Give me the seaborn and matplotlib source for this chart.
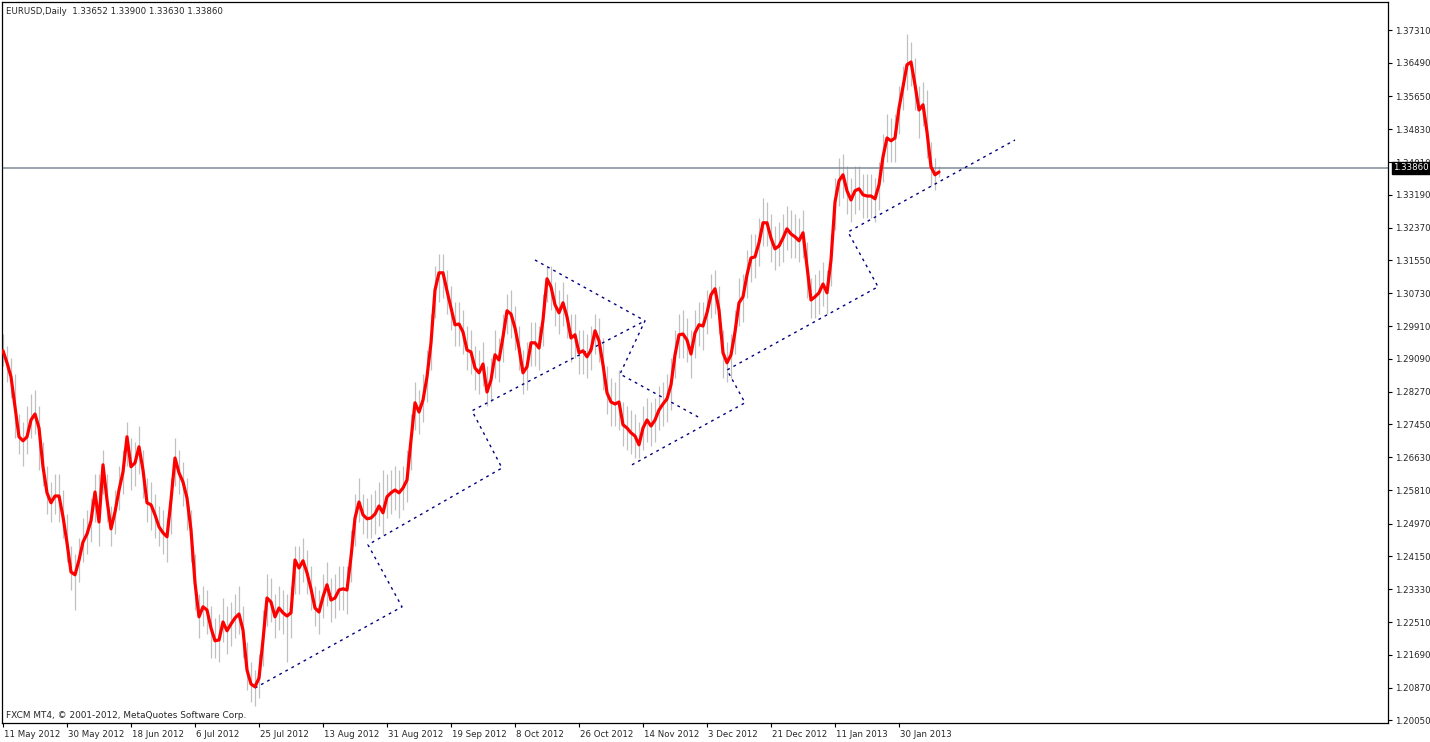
import numpy as np
import pandas as pd
import matplotlib
matplotlib.use('Agg')
import matplotlib.pyplot as plt
import matplotlib.transforms as mtransforms
import seaborn as sns

# Smoothed close (red line), one value per daily bar
red_line = [
    1.2929, 1.2899, 1.2864, 1.2789, 1.2714, 1.2704, 1.2714, 1.2756, 1.2771, 1.2736,
    1.2639, 1.2574, 1.2549, 1.2566, 1.2566, 1.2514, 1.2449, 1.2376, 1.2369, 1.2406,
    1.2451, 1.2471, 1.2504, 1.2576, 1.2501, 1.2644, 1.2556, 1.2484, 1.2526, 1.2581,
    1.2626, 1.2714, 1.2639, 1.2649, 1.2689, 1.2631, 1.2549, 1.2544, 1.2519, 1.2489,
    1.2474, 1.2464, 1.2556, 1.2661, 1.2624, 1.2601, 1.2561, 1.2481, 1.2349, 1.2264,
    1.2289, 1.2281, 1.2236, 1.2204, 1.2206, 1.2251, 1.2229, 1.2246, 1.2261, 1.2271,
    1.2231, 1.2131, 1.2096, 1.2089, 1.2111, 1.2206, 1.2311, 1.2301, 1.2264, 1.2286,
    1.2274, 1.2266, 1.2274, 1.2406, 1.2386, 1.2404, 1.2374, 1.2334, 1.2286, 1.2276,
    1.2314, 1.2344, 1.2306, 1.2311, 1.2331, 1.2334, 1.2331, 1.2414, 1.2511, 1.2551,
    1.2519, 1.2509, 1.2511, 1.2521, 1.2541, 1.2524, 1.2564, 1.2574, 1.2581, 1.2574,
    1.2586, 1.2606, 1.2706, 1.2799, 1.2776, 1.2806, 1.2864, 1.2949, 1.3081, 1.3124,
    1.3124, 1.3079, 1.3036, 1.2994, 1.2996, 1.2976, 1.2931, 1.2926, 1.2886, 1.2874,
    1.2896, 1.2826, 1.2856, 1.2919, 1.2906, 1.2964, 1.3029, 1.3021, 1.2986, 1.2936,
    1.2874, 1.2889, 1.2949, 1.2949, 1.2936, 1.3006, 1.3109, 1.3089, 1.3044, 1.3024,
    1.3049, 1.3014, 1.2961, 1.2969, 1.2924, 1.2929, 1.2914, 1.2931, 1.2979, 1.2954,
    1.2894, 1.2824, 1.2801, 1.2796, 1.2801, 1.2744, 1.2736, 1.2724, 1.2716, 1.2694,
    1.2736, 1.2756, 1.2741, 1.2756, 1.2781, 1.2796, 1.2809, 1.2844, 1.2919, 1.2969,
    1.2971, 1.2956, 1.2921, 1.2974, 1.2994, 1.2991, 1.3024, 1.3069, 1.3084, 1.3031,
    1.2924, 1.2899, 1.2919, 1.2976, 1.3049, 1.3064, 1.3119, 1.3161, 1.3164, 1.3199,
    1.3249, 1.3249, 1.3211, 1.3184, 1.3191, 1.3211, 1.3234, 1.3221, 1.3214, 1.3204,
    1.3224, 1.3139, 1.3056, 1.3064, 1.3074, 1.3096, 1.3074, 1.3156, 1.3301, 1.3354,
    1.3369, 1.3329, 1.3306, 1.3329, 1.3334, 1.3319, 1.3316, 1.3316, 1.3309, 1.3344,
    1.3414, 1.3461, 1.3454, 1.3461, 1.3536, 1.3589, 1.3644, 1.3651, 1.3594, 1.3531,
    1.3544, 1.3476, 1.3389, 1.3369, 1.3376,
]

# Daily bar highs and lows (grey bars)
bar_high = [
    1.297, 1.294, 1.291, 1.287, 1.277, 1.275, 1.279, 1.282, 1.283, 1.279,
    1.270, 1.264, 1.260, 1.262, 1.262, 1.258, 1.252, 1.244, 1.242, 1.246,
    1.251, 1.253, 1.256, 1.262, 1.262, 1.268, 1.262, 1.254, 1.258, 1.264,
    1.268, 1.275, 1.271, 1.270, 1.274, 1.268, 1.261, 1.260, 1.257, 1.254,
    1.253, 1.251, 1.261, 1.271, 1.268, 1.265, 1.261, 1.253, 1.242, 1.232,
    1.234, 1.233, 1.229, 1.226, 1.227, 1.231, 1.229, 1.230, 1.232, 1.234,
    1.229, 1.220, 1.215, 1.213, 1.217, 1.228, 1.237, 1.236, 1.232, 1.234,
    1.233, 1.232, 1.234, 1.244, 1.244, 1.246, 1.243, 1.239, 1.234, 1.233,
    1.237, 1.240, 1.236, 1.237, 1.239, 1.239, 1.239, 1.248, 1.257, 1.261,
    1.257, 1.256, 1.257, 1.258, 1.260, 1.263, 1.262, 1.263, 1.264, 1.263,
    1.264, 1.268, 1.277, 1.285, 1.283, 1.287, 1.293, 1.302, 1.314, 1.317,
    1.317, 1.313, 1.309, 1.305, 1.305, 1.303, 1.299, 1.298, 1.294, 1.293,
    1.295, 1.289, 1.291, 1.298, 1.296, 1.302, 1.307, 1.308, 1.304, 1.299,
    1.293, 1.295, 1.300, 1.300, 1.299, 1.307, 1.314, 1.314, 1.310, 1.308,
    1.310, 1.307, 1.302, 1.302, 1.298, 1.298, 1.297, 1.299, 1.302, 1.301,
    1.296, 1.289, 1.286, 1.285, 1.288, 1.280, 1.279, 1.278, 1.277, 1.275,
    1.279, 1.281, 1.280, 1.281, 1.284, 1.285, 1.287, 1.291, 1.298, 1.302,
    1.303, 1.301, 1.298, 1.303, 1.305, 1.305, 1.308, 1.312, 1.313, 1.309,
    1.298, 1.295, 1.297, 1.303, 1.311, 1.312, 1.318, 1.322, 1.322, 1.326,
    1.331, 1.330, 1.327, 1.324, 1.325, 1.327, 1.329, 1.328, 1.327, 1.326,
    1.328, 1.320, 1.311, 1.312, 1.313, 1.315, 1.313, 1.322, 1.336, 1.341,
    1.342, 1.339, 1.336, 1.339, 1.339, 1.337, 1.337, 1.337, 1.336, 1.340,
    1.347, 1.352, 1.351, 1.352, 1.359, 1.364, 1.372, 1.370, 1.366, 1.359,
    1.360, 1.358, 1.345, 1.341, 1.339,
]
bar_low = [
    1.289, 1.285, 1.281, 1.271, 1.267, 1.264, 1.267, 1.271, 1.272, 1.263,
    1.259, 1.252, 1.250, 1.252, 1.250, 1.246, 1.240, 1.233, 1.228, 1.235,
    1.240, 1.242, 1.245, 1.250, 1.244, 1.257, 1.250, 1.244, 1.247, 1.253,
    1.257, 1.264, 1.258, 1.259, 1.262, 1.256, 1.250, 1.248, 1.246, 1.244,
    1.242, 1.240, 1.247, 1.259, 1.257, 1.254, 1.248, 1.240, 1.228, 1.221,
    1.224, 1.222, 1.216, 1.216, 1.215, 1.220, 1.217, 1.219, 1.221, 1.222,
    1.216, 1.208, 1.205, 1.204, 1.206, 1.214, 1.224, 1.225, 1.221, 1.223,
    1.222, 1.215, 1.221, 1.232, 1.232, 1.235, 1.232, 1.228, 1.224, 1.222,
    1.226, 1.229, 1.225, 1.226, 1.228, 1.228, 1.227, 1.235, 1.244, 1.250,
    1.247, 1.246, 1.246, 1.247, 1.249, 1.247, 1.251, 1.252, 1.253, 1.251,
    1.253, 1.255, 1.263, 1.273, 1.272, 1.275, 1.280, 1.288, 1.301, 1.305,
    1.306, 1.302, 1.298, 1.294, 1.294, 1.292, 1.288, 1.287, 1.283, 1.282,
    1.284, 1.279, 1.280, 1.286, 1.285, 1.290, 1.297, 1.296, 1.293, 1.288,
    1.282, 1.283, 1.289, 1.289, 1.288, 1.294, 1.305, 1.303, 1.299, 1.297,
    1.299, 1.296, 1.290, 1.291, 1.287, 1.287, 1.286, 1.288, 1.292, 1.290,
    1.283, 1.277, 1.274, 1.274, 1.273, 1.269, 1.268, 1.267, 1.266, 1.266,
    1.268, 1.270, 1.269, 1.270, 1.273, 1.274, 1.275, 1.278, 1.286, 1.291,
    1.291, 1.290, 1.286, 1.291, 1.294, 1.293, 1.297, 1.301, 1.302, 1.297,
    1.286, 1.285, 1.286, 1.292, 1.299, 1.300, 1.306, 1.310, 1.311, 1.314,
    1.319, 1.319, 1.315, 1.313, 1.314, 1.315, 1.318, 1.316, 1.316, 1.315,
    1.316, 1.306, 1.301, 1.301, 1.302, 1.304, 1.302, 1.309, 1.323, 1.329,
    1.331, 1.327, 1.325, 1.327, 1.328, 1.326, 1.326, 1.326, 1.325, 1.328,
    1.335, 1.340, 1.340, 1.340, 1.347, 1.353, 1.358, 1.359, 1.353, 1.346,
    1.349, 1.341, 1.334, 1.333, 1.3363,
]

# Hand-drawn zigzag trend lines (bar number, price)
zig_a_bar = [63, 99.75, 91.25, 124.75, 117.25, 160.5]
zig_a_price = [1.2086, 1.2289, 1.2444, 1.2636, 1.2779, 1.3004]
zig_b_bar = [133, 160.5, 154.25, 174.25]
zig_b_price = [1.3156, 1.3004, 1.2871, 1.2761]
zig_c_bar = [157.25, 185.5, 181, 218.75, 211.25, 253]
zig_c_price = [1.2644, 1.2799, 1.2881, 1.3089, 1.3226, 1.3456]

last_price = 1.33860

date_ticks = [0, 16, 32, 48, 64, 80, 96, 112, 128, 144, 160, 176, 192, 208, 224]
date_labels = ['11 May 2012', '30 May 2012', '18 Jun 2012', '6 Jul 2012',
               '25 Jul 2012', '13 Aug 2012', '31 Aug 2012', '19 Sep 2012',
               '8 Oct 2012', '26 Oct 2012', '14 Nov 2012', '3 Dec 2012',
               '21 Dec 2012', '11 Jan 2013', '30 Jan 2013']
price_labels = ['1.37310', '1.36490', '1.35650', '1.34830', '1.34010', '1.33190',
                '1.32370', '1.31550', '1.30730', '1.29910', '1.29090', '1.28270',
                '1.27450', '1.26630', '1.25810', '1.24970', '1.24150', '1.23330',
                '1.22510', '1.21690', '1.20870', '1.20050']

sns.set_style('white')
plt.rcParams['font.family'] = ['DejaVu Sans']

df = pd.DataFrame({'bar': np.arange(len(red_line)), 'price': red_line,
                   'high': bar_high, 'low': bar_low})

fig = plt.figure(figsize=(14.3, 7.42), dpi=100)
ax = fig.add_axes([2 / 1430, 19 / 742, 1386 / 1430, 721 / 742])

# grey daily bars
ax.vlines(df['bar'], df['low'], df['high'], color='#c0c0c0', lw=0.9, zorder=1)

# horizontal line at last price
ax.axhline(last_price, color='#7f8c99', lw=1.1, zorder=2)

# zigzag dotted lines
for xs, ys in [(zig_a_bar, zig_a_price), (zig_b_bar, zig_b_price), (zig_c_bar, zig_c_price)]:
    ax.plot(xs, ys, color='#000080', lw=1.0, linestyle=(0, (2, 3)), zorder=3)

# red smoothed line
sns.lineplot(x='bar', y='price', data=df, color='#ff0000', lw=2.3, ax=ax, zorder=4)

ax.set_xlim(-0.25, 346.25)
ax.set_ylim(1.19985, 1.3801)
ax.set_xlabel('')
ax.set_ylabel('')

ax.set_xticks(date_ticks)
ax.set_xticklabels(date_labels, fontsize=6.2, ha='left')
ax.yaxis.tick_right()
ax.set_yticks([float(p) for p in price_labels])
ax.set_yticklabels(price_labels, fontsize=6.2)
ax.tick_params(axis='both', direction='out', length=3, width=0.8, color='black',
               pad=2, bottom=True, right=True, left=False)
for lab in ax.get_xticklabels():
    lab.set_transform(lab.get_transform() + mtransforms.ScaledTranslation(1 / 100, 0, fig.dpi_scale_trans))

for s in ax.spines.values():
    s.set_color('black')
    s.set_linewidth(0.9)

# last-price label box on the price scale
trans = mtransforms.blended_transform_factory(ax.transAxes, ax.transData)
ax.text(1.0035, last_price, '1.33860', transform=trans, fontsize=6.2, color='white',
        va='center', ha='left', clip_on=False, zorder=10,
        bbox=dict(boxstyle='square,pad=0.15', fc='black', ec='black'))

ax.text(0.003, 0.993, 'EURUSD,Daily  1.33652 1.33900 1.33630 1.33860',
        transform=ax.transAxes, fontsize=6.2, va='top', ha='left')
ax.text(0.003, 0.004, 'FXCM MT4, \u00a9 2001-2012, MetaQuotes Software Corp.',
        transform=ax.transAxes, fontsize=6.4, va='bottom', ha='left')

fig.savefig('out.png', dpi=100)
